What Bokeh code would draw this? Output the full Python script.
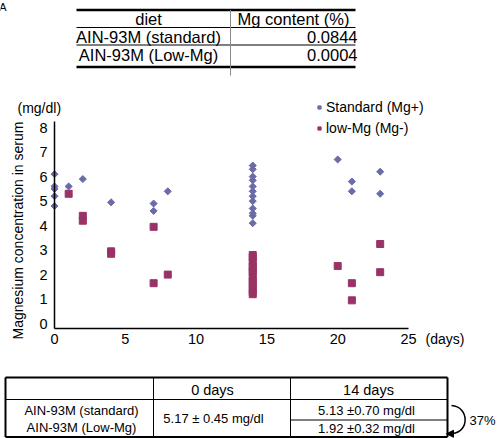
from bokeh.plotting import figure
from bokeh.models import Range1d, Legend, LegendItem, FixedTicker
from bokeh.core.properties import value
from bokeh.embed import file_html
from bokeh.resources import INLINE
import math

FONT = "Liberation Sans"

# ---------------- data ----------------
diets = ["AIN-93M (standard)", "AIN-93M (Low-Mg)"]
mg_content = ["0.0844", "0.0004"]

std_days = [0, 0, 0, 0, 0, 1, 2, 4, 7, 7, 8,
            14, 14, 14, 14, 14, 14, 14, 14, 14, 14, 14, 14,
            20, 21, 21, 23, 23]
std_mg = [6.1, 5.6, 5.5, 5.2, 4.8, 5.6, 5.9, 4.95, 4.9, 4.6, 5.4,
          6.45, 6.3, 6.0, 5.85, 5.6, 5.4, 5.2, 5.0, 4.7, 4.5, 4.4, 4.1,
          6.7, 5.8, 5.4, 6.2, 5.3]

low_days = [1, 2, 2, 4, 4, 7, 7, 8,
            14, 14, 14, 14, 14, 14, 14, 14, 14, 14, 14, 14,
            20, 21, 21, 23, 23]
low_mg = [5.3, 4.4, 4.2, 2.95, 2.85, 3.95, 1.65, 2.0,
          2.8, 2.7, 2.5, 2.35, 2.2, 2.1, 1.9, 1.75, 1.6, 1.45, 1.3, 1.2,
          2.35, 1.65, 0.95, 3.25, 2.1]

x_ticks = [0, 5, 10, 15, 20, 25]
y_ticks = [0, 1, 2, 3, 4, 5, 6, 7, 8]

table_cols = ["0 days", "14 days"]
day0_text = "5.17 \u00b1 0.45 mg/dl"
day14_text = ["5.13 \u00b10.70 mg/dl", "1.92 \u00b10.32 mg/dl"]
reduction = "37%"

STD_COLOR = "#6B6BA8"
LOW_COLOR = "#993366"

# ---------------- geometry (page pixels) ----------------
PAGE_L, PAGE_R, PAGE_T, PAGE_B = 0, 500, 0, 438
CH_L, CH_R, CH_T, CH_B = 54, 408, 121, 328      # chart area
X0, X1 = 0, 25
Y0, Y1 = -0.2, 8.25
kx = (CH_R - CH_L) / (X1 - X0)
ky = (CH_B - CH_T) / (Y1 - Y0)
x_range = Range1d(X0 - (CH_L - PAGE_L) / kx, X1 + (PAGE_R - CH_R) / kx)
y_range = Range1d(Y0 - (PAGE_B - CH_B) / ky, Y1 + (CH_T - PAGE_T) / ky)

p = figure(width=PAGE_R - PAGE_L, height=PAGE_B - PAGE_T, x_range=x_range, y_range=y_range,
           toolbar_location=None, tools="", output_backend="svg", min_border=0)
p.grid.visible = False
p.outline_line_color = None
p.extra_x_ranges = {"px": Range1d(PAGE_L, PAGE_R)}
p.extra_y_ranges = {"py": Range1d(PAGE_B, PAGE_T)}

for ax in (p.xaxis, p.yaxis):
    ax.axis_line_color = "black"
    ax.axis_line_width = 1.5
    ax.major_tick_in = 0
    ax.major_tick_out = 0
    ax.minor_tick_line_color = None
    ax.major_label_text_font = FONT
    ax.major_label_text_font_size = "14.5px"
    ax.major_label_text_color = "black"
p.xaxis.fixed_location = Y0
p.xaxis.bounds = (X0, X1)
p.yaxis.fixed_location = X0
p.yaxis.bounds = (Y0, Y1)
p.xaxis.ticker = FixedTicker(ticks=x_ticks)
p.yaxis.ticker = FixedTicker(ticks=y_ticks)
p.xaxis.major_label_standoff = 5
p.yaxis.major_label_standoff = 7

r_std = p.scatter(std_days, std_mg, marker="square", size=5, angle=math.pi / 4,
                  fill_color=STD_COLOR, line_color=STD_COLOR)
r_low = p.scatter(low_days, low_mg, marker="square", size=7,
                  fill_color=LOW_COLOR, line_color=LOW_COLOR)

legend = Legend(items=[LegendItem(label="Standard (Mg+)", renderers=[r_std]),
                       LegendItem(label="low-Mg (Mg-)", renderers=[r_low])],
                location=(315 - PAGE_L, PAGE_B - 138), orientation="vertical",
                glyph_width=8, glyph_height=8, label_standoff=3, spacing=1,
                padding=0, margin=0, border_line_color=None, background_fill_alpha=0,
                label_text_font=FONT, label_text_font_size="14px", label_height=20,
                label_text_color="black")
p.add_layout(legend)

PX = dict(x_range_name="px", y_range_name="py")


def txt(xs, ys, texts, size, align="center", angle=0):
    p.text(x=xs, y=ys, text=texts, text_align=align, text_baseline="middle", angle=angle,
           text_font=value(FONT), text_font_size=size, text_color="black", **PX)


def lines(x0, y0, x1, y1, width, color="black"):
    p.segment(x0=x0, y0=y0, x1=x1, y1=y1, line_width=width, line_color=color, **PX)


# panel letter, axis title and unit notes
txt([6], [6], ["A"], "11px", "right")
txt([17], [230], ["Magnesium concentration in serum"], "14px", "center", math.pi / 2)
txt([17], [107], ["(mg/dl)"], "14px", "left")
txt([425], [338], ["(days)"], "14px", "left")

# ---------------- top table ----------------
lines([76, 76], [9.5, 66.5], [355, 355], [9.5, 66.5], 2.5)
lines([76, 76], [27, 44.5], [355, 355], [27, 44.5], 1)
lines([230], [9.5], [230], [75], 1, "#888888")
txt([148, 293], [18, 18], ["diet", "Mg content (%)"], "16.5px")
txt([148, 148], [36, 54], diets, "16.5px")
txt([357, 357], [36, 54], mg_content, "16.5px", "right")

# ---------------- bottom table ----------------
lines([5, 5, 5, 447], [377, 436.5, 377, 377], [447, 447, 5, 447], [377, 436.5, 436.5, 436.5], 2)
lines([5, 153, 290, 290], [399, 377, 377, 419.5], [447, 153, 290, 447], [399, 436.5, 436.5, 419.5], 1)
txt([212, 368], [389, 389], table_cols, "14.5px")
txt([81, 81], [410, 427], diets, "13px")
txt([213], [418], [day0_text], "13px")
txt([366, 366], [410, 428], day14_text, "13px")

# curved arrow
p.bezier(x0=[451], y0=[405], x1=[452], y1=[433], cx0=[469], cy0=[406], cx1=[469], cy1=[432],
         line_color="black", line_width=1.5, **PX)
p.patch(x=[446, 453, 453], y=[433.3, 429.8, 436.8], fill_color="black", line_color="black", **PX)
txt([469], [420], [reduction], "13px", "left")

open("out.html", "w").write(file_html(p, INLINE))
